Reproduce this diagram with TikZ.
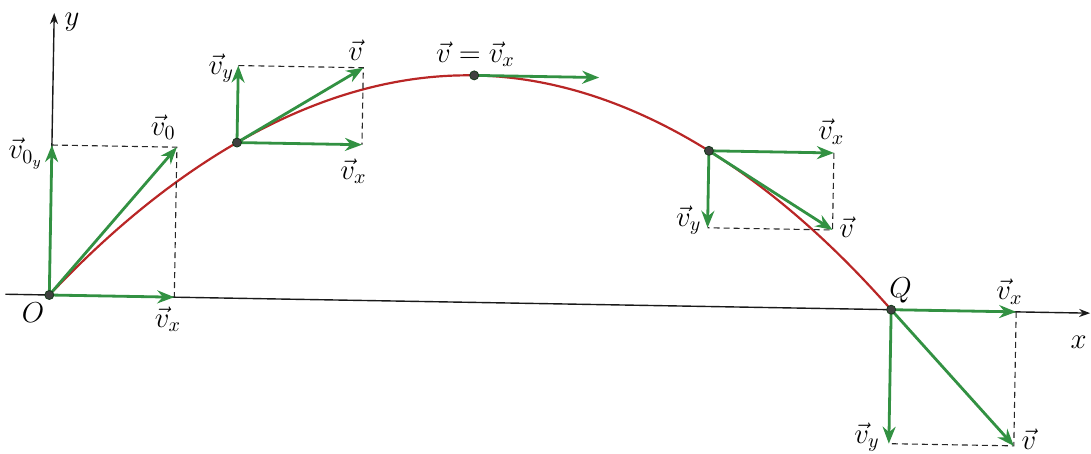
\documentclass[tikz,border=0pt]{standalone}
\usepackage{amsmath,amssymb}
\usepackage{xcolor}
\usepackage{tikz}
\usetikzlibrary{arrows.meta,positioning}

\definecolor{vgreen}{RGB}{50,145,66}
\definecolor{trajred}{RGB}{185,38,38}

\begin{document}
\begin{tikzpicture}[
  x=0.5pt, y=0.5pt,
  axis/.style={-{Stealth[length=5.5pt,width=4pt]}, line width=0.7pt, black!90},
  vec/.style={-{Stealth[length=8.5pt,width=6.5pt]}, line width=1.4pt, vgreen},
  proj/.style={dash pattern=on 3pt off 2pt, line width=0.55pt, black!85},
  traj/.style={line width=1.1pt, trajred},
  pointdot/.style={circle, fill=black!75, draw=vgreen!40!black, inner sep=0pt, minimum size=4.5pt},
  lbl/.style={font=\Large, inner sep=1pt}
]
\useasboundingbox (-49.3,-159) rectangle (1041.7,295);
\begin{scope}[rotate=-1]
\coordinate (O) at (0,0);
\coordinate (P1) at (185,155.7);
\coordinate (A) at (421,227);
\coordinate (P2) at (657,155.7);
\coordinate (Q) at (842,0);
\coordinate (xl) at (-44,0);
\coordinate (xr) at (1041,0);
\coordinate (yt) at (0,282);

\coordinate (Ovx) at (125,0);
\coordinate (Ovy) at (0,150);
\coordinate (Ov) at (125,150);
\coordinate (P1vx) at (310,155.7);
\coordinate (P1vy) at (185,232.7);
\coordinate (P1v) at (310,232.7);
\coordinate (Avx) at (546,227);
\coordinate (P2vx) at (782,155.7);
\coordinate (P2vy) at (657,78.7);
\coordinate (P2v) at (782,78.7);
\coordinate (Qvx) at (967,0);
\coordinate (Qvy) at (842,-134);
\coordinate (Qv) at (967,-134);

\draw[axis] (xl) -- (xr);
\draw[axis] (O) -- (yt);

\draw[traj] (O) parabola bend (A) (Q);

\draw[proj] (Ovy) -- (Ov) -- (Ovx);
\draw[proj] (P1vy) -- (P1v) -- (P1vx);
\draw[proj] (P2vx) -- (P2v) -- (P2vy);
\draw[proj] (Qvx) -- (Qv) -- (Qvy);

\draw[vec] (O) -- (Ovx);
\draw[vec] (O) -- (Ovy);
\draw[vec] (O) -- (Ov);
\draw[vec] (P1) -- (P1vx);
\draw[vec] (P1) -- (P1vy);
\draw[vec] (P1) -- (P1v);
\draw[vec] (A) -- (Avx);
\draw[vec] (P2) -- (P2vx);
\draw[vec] (P2) -- (P2vy);
\draw[vec] (P2) -- (P2v);
\draw[vec] (Q) -- (Qvx);
\draw[vec] (Q) -- (Qvy);
\draw[vec] (Q) -- (Qv);

\node[pointdot] (dO) at (O) {};
\node[pointdot] (dP1) at (P1) {};
\node[pointdot] (dA) at (A) {};
\node[pointdot] (dP2) at (P2) {};
\node[pointdot] (dQ) at (Q) {};

\node[lbl] (ly) at (18,273) {$y$};
\node[lbl] (lx) at (1030,-29) {$x$};
\node[lbl] (lO) at (-16,-18) {$O$};
\node[lbl] (lQ) at (851,19) {$Q$};
\node[lbl] (lOvx) at (119,-22) {$\vec{v}_x$};
\node[lbl] (lOv) at (111,170) {$\vec{v}_0$};
\node[lbl] (lOvy) at (-26,141) {$\vec{v}_{0_y}$};
\node[lbl] (lP1vy) at (168,230) {$\vec{v}_y$};
\node[lbl] (lP1v) at (302,250) {$\vec{v}$};
\node[lbl] (lP1vx) at (302,129) {$\vec{v}_x$};
\node[lbl] (lA) at (422,248) {$\vec{v}=\vec{v}_x$};
\node[lbl] (lP2vx) at (779,177) {$\vec{v}_x$};
\node[lbl] (lP2vy) at (638,86) {$\vec{v}_y$};
\node[lbl] (lP2v) at (796,82) {$\vec{v}$};
\node[lbl] (lQvx) at (960,20) {$\vec{v}_x$};
\node[lbl] (lQvy) at (820,-128) {$\vec{v}_y$};
\node[lbl] (lQv) at (982,-127) {$\vec{v}$};
\end{scope}
\end{tikzpicture}
\end{document}
